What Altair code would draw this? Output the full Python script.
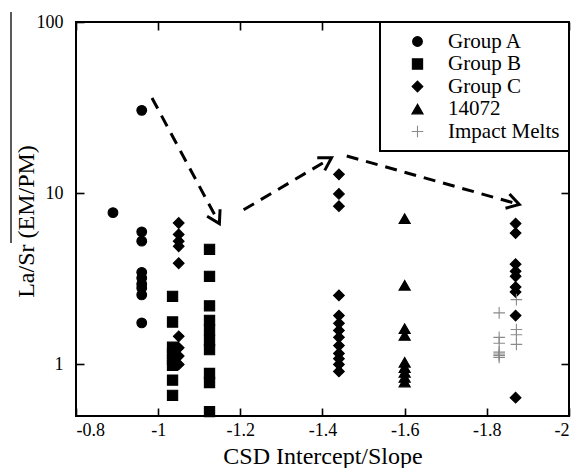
import math
import altair as alt
import pandas as pd

# ---------------- data ----------------
groups = ["Group A", "Group B", "Group C", "14072", "Impact Melts"]

groupA_x = [-0.89, -0.96, -0.96, -0.96, -0.96, -0.96, -0.96, -0.96, -0.96, -0.96]
groupA_y = [7.7, 30.5, 5.95, 5.25, 3.45, 3.2, 2.95, 2.8, 2.55, 1.75]

groupB_x = [-1.035] * 8 + [-1.125] * 10
groupB_y = [2.5, 1.77, 1.26, 1.16, 1.07, 0.99, 0.81, 0.66,
            4.7, 3.27, 2.2, 1.81, 1.59, 1.38, 1.22, 0.886, 0.785, 0.53]

groupC_x = [-1.05] * 9 + [-1.44] * 13 + [-1.87] * 9
groupC_y = [6.7, 5.75, 5.25, 4.9, 3.9, 1.46, 1.25, 1.12, 1.0,
            12.9, 9.9, 8.4, 2.53, 1.93, 1.74, 1.58, 1.44, 1.29, 1.16, 1.08, 1.0, 0.91,
            6.65, 5.85, 3.85, 3.5, 3.27, 2.83, 2.65, 1.93, 0.64]

s14072_x = [-1.60] * 9
s14072_y = [7.1, 2.9, 1.62, 1.48, 1.03, 0.96, 0.9, 0.84, 0.79]

melts_x = [-1.83] * 7 + [-1.872] * 4
melts_y = [2.0, 1.44, 1.33, 1.18, 1.15, 1.13, 1.10, 2.39, 1.6, 1.49, 1.31]

arrow_x0 = [-0.985, -1.208, -1.459]
arrow_y0 = [36.0, 8.0, 16.5]
arrow_x1 = [-1.149, -1.422, -1.879]
arrow_y1 = [6.65, 16.1, 8.6]

x_ticks = [-0.8, -1.0, -1.2, -1.4, -1.6, -1.8, -2.0]
y_ticks = [1, 10, 100]

# ---------------- tables ----------------
rows = []
for g, xs, ys in [("Group A", groupA_x, groupA_y), ("Group B", groupB_x, groupB_y),
                  ("Group C", groupC_x, groupC_y), ("14072", s14072_x, s14072_y),
                  ("Impact Melts", melts_x, melts_y)]:
    for a, b in zip(xs, ys):
        rows.append({"group": g, "x": a, "y": b})
df = pd.DataFrame(rows)

W, H = 493, 394
XD = [-2.0, -0.8]
YD = [0.5, 100]


def px(v):
    return (-0.8 - v) / 1.2 * W


def py(v):
    return H * (math.log10(YD[1]) - math.log10(v)) / (math.log10(YD[1]) - math.log10(YD[0]))


line_rows, head_rows = [], []
for i, (a0, b0, a1, b1) in enumerate(zip(arrow_x0, arrow_y0, arrow_x1, arrow_y1)):
    line_rows.append({"id": i, "x": a0, "y": b0})
    line_rows.append({"id": i, "x": a1, "y": b1})
    ang = math.degrees(math.atan2(py(b1) - py(b0), px(a1) - px(a0))) % 360
    head_rows.append({"id": i, "x": a1, "y": b1, "angle": ang})
df_lines = pd.DataFrame(line_rows)
df_heads = pd.DataFrame(head_rows)

FONT = "Liberation Serif"
xscale = alt.Scale(domain=XD, reverse=True, nice=False, zero=False)
yscale = alt.Scale(type="log", domain=YD, nice=False)

plus_path = "M-1,0L1,0M0,-1L0,1"
shape_scale = alt.Scale(domain=groups, range=["circle", "square", "diamond", "triangle-up", plus_path])
color_scale = alt.Scale(domain=groups, range=["black", "black", "black", "black", "#8a8a8a"])
size_scale = alt.Scale(domain=groups, range=[95, 135, 160, 165, 170])

legend = alt.Legend(title=None, orient="top-right", offset=0, labelFont=FONT, labelFontSize=21,
                    labelColor="black")

points = alt.Chart(df).mark_point(filled=True, opacity=1, strokeWidth=1.1).encode(
    x=alt.X("x:Q", scale=xscale,
            axis=alt.Axis(orient="bottom", values=x_ticks, labelExpr="'' + datum.value",
                          ticks=False, tickSize=0, domain=False, grid=False,
                          labelFont=FONT, labelFontSize=18, labelPadding=5, labelColor="black",
                          title="CSD Intercept/Slope", titleFont=FONT, titleFontSize=24,
                          titleFontWeight="normal",
                          titleColor="black", titleY=47, titleBaseline="alphabetic")),
    y=alt.Y("y:Q", scale=yscale,
            axis=alt.Axis(orient="left", values=y_ticks, labelExpr="'' + datum.value",
                          ticks=False, tickSize=0, domain=False, grid=False,
                          labelFont=FONT, labelFontSize=18, labelPadding=13, labelColor="black",
                          title="La/Sr (EM/PM)", titleFont=FONT, titleFontSize=24,
                          titleFontWeight="normal",
                          titleColor="black", titleAngle=270, titleX=-43, titleY=199,
                          titleAlign="center", titleBaseline="alphabetic")),
    shape=alt.Shape("group:N", scale=shape_scale, legend=legend),
    color=alt.Color("group:N", scale=color_scale, legend=legend),
    stroke=alt.Stroke("group:N", scale=color_scale, legend=legend),
    size=alt.Size("group:N", scale=size_scale, legend=legend),
)


def tick_axis(orient, offset, values):
    return alt.Axis(orient=orient, offset=offset, values=values, labels=False, domain=False,
                    grid=False, ticks=True, tickSize=8, tickWidth=1.6, tickColor="black", title=None)


lines = alt.Chart(df_lines).mark_line(strokeDash=[12, 8], strokeWidth=3, color="black").encode(
    x=alt.X("x:Q", scale=xscale, axis=tick_axis("top", -H, x_ticks)),
    y=alt.Y("y:Q", scale=yscale, axis=tick_axis("right", -W, y_ticks)),
    detail="id:N",
)

heads = alt.Chart(df_heads).mark_point(shape="M-1,-0.6L0,0L-1,0.6", filled=False, strokeWidth=3,
                                       size=600, color="black", opacity=1).encode(
    x=alt.X("x:Q", scale=xscale, axis=tick_axis("bottom", -H, x_ticks)),
    y=alt.Y("y:Q", scale=yscale, axis=tick_axis("left", -W, y_ticks)),
    angle=alt.Angle("angle:Q", scale=None),
)

overline = alt.Chart(pd.DataFrame({"a": [0]})).mark_rule(color="black", strokeWidth=1.3).encode(
    x=alt.value(-65), y=alt.value(-10), y2=alt.value(221)
)

chart = alt.layer(points, lines, heads, overline).resolve_axis(
    x="independent", y="independent"
).properties(
    width=W, height=H,
    autosize=alt.AutoSizeParams(type="none"),
    padding={"left": 76, "top": 22, "right": 8, "bottom": 52},
).configure(font=FONT).configure_view(
    stroke="black", strokeWidth=2
).configure_axis(
    labelFont=FONT, titleFont=FONT
).configure_legend(
    orient="top-right", offset=0, strokeColor="black", strokeWidth=2, fillColor="white",
    padding=9, symbolOffset=18, labelOffset=20, labelFontSize=21, labelColor="black",
    labelFont=FONT, rowPadding=0.5, symbolStrokeWidth=1.1, titlePadding=0,
)

chart.save("out.html", embed_options={"renderer": "svg", "actions": False})
